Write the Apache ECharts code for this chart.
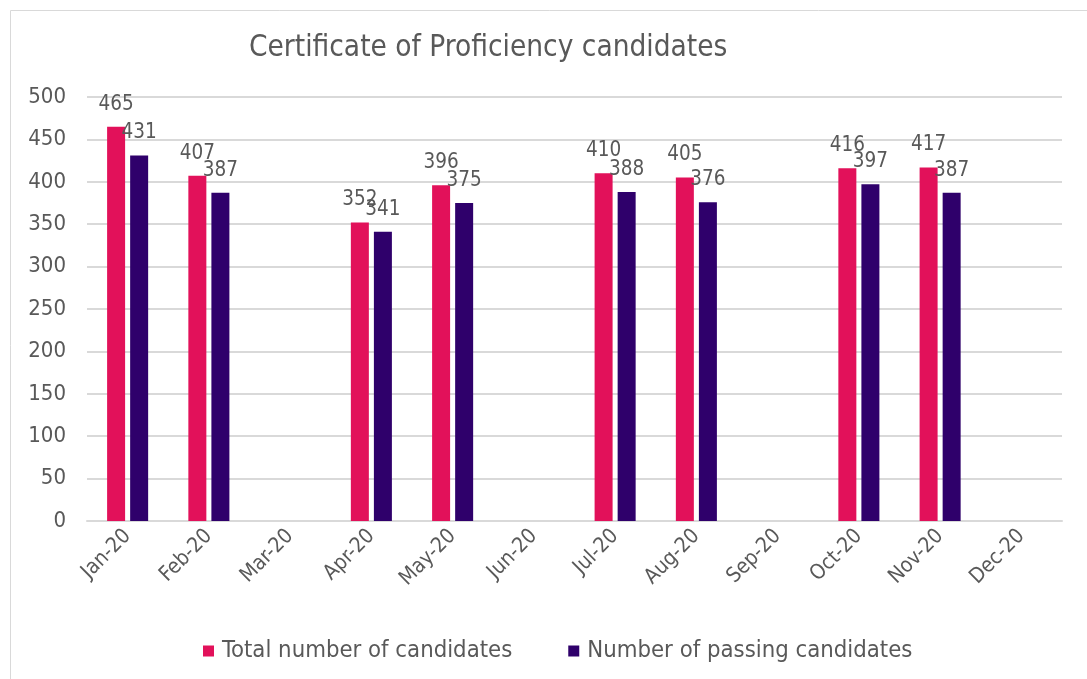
<!DOCTYPE html>
<html>
<head>
<meta charset="utf-8">
<script src="https://cdn.jsdelivr.net/npm/echarts@6/dist/echarts.min.js"></script>
<style>
  html, body { margin: 0; padding: 0; background: #fff; }
  #chart { width: 1087px; height: 679px; }
</style>
</head>
<body>
<div id="chart"></div>
<script>
const months = ['Jan-20', 'Feb-20', 'Mar-20', 'Apr-20', 'May-20', 'Jun-20', 'Jul-20', 'Aug-20', 'Sep-20', 'Oct-20', 'Nov-20', 'Dec-20']
const totalCandidates = [465, 407, null, 352, 396, null, 410, 405, null, 416, 417, null]
const passingCandidates = [431, 387, null, 341, 375, null, 388, 376, null, 397, 387, null]
const seriesNames = ['Total number of candidates', 'Number of passing candidates']

const font = '"DejaVu Sans Condensed", sans-serif'
const textColor = '#595959'

const chart = echarts.init(document.getElementById('chart'))

const option = {
    animation: false,
    color: ['#e2115a', '#2f006b'],
    textStyle: { fontFamily: font },
    title: {
        text: 'Certificate of Proficiency candidates',
        left: 244,
        top: 28,
        textStyle: { fontFamily: font, fontSize: 29.5, fontWeight: 'normal', color: textColor }
    },
    graphic: [{
        type: 'rect',
        shape: { x: 10.5, y: 10.5, width: 1100, height: 700 },
        style: { fill: 'none', stroke: '#d9d9d9', lineWidth: 1 },
        silent: true
    }],
    legend: {
        left: 198,
        top: 634,
        itemWidth: 11,
        itemHeight: 11,
        itemGap: 56,
        icon: 'rect',
        textStyle: { fontFamily: font, fontSize: 23.7, color: textColor, padding: [0, 0, 0, 3] },
        data: seriesNames
    },
    grid: {
        left: 87,
        right: 25,
        top: 97,
        bottom: 158,
        containLabel: false
    },
    xAxis: {
        type: 'category',
        data: months,
        axisLine: { lineStyle: { color: '#d9d9d9', width: 2 } },
        axisTick: { length: 8, lineStyle: { color: '#d9d9d9', width: 2 } },
        axisLabel: {
            rotate: 45,
            margin: 12,
            fontFamily: font,
            fontSize: 21,
            color: textColor
        }
    },
    yAxis: {
        type: 'value',
        min: 0,
        max: 500,
        interval: 50,
        axisLine: { show: false },
        axisTick: { show: false },
        splitLine: { lineStyle: { color: '#d9d9d9', width: 2 } },
        axisLabel: {
            margin: 21,
            fontFamily: font,
            fontSize: 22,
            color: textColor
        }
    },
    series: [
        {
            name: seriesNames[0],
            type: 'bar',
            data: totalCandidates,
            barWidth: 18,
            barGap: '28%',
            label: {
                show: true,
                position: 'top',
                distance: 12,
                fontFamily: font,
                fontSize: 20.5,
                color: textColor
            }
        },
        {
            name: seriesNames[1],
            type: 'bar',
            data: passingCandidates,
            barWidth: 18,
            label: {
                show: true,
                position: 'top',
                distance: 12,
                fontFamily: font,
                fontSize: 20.5,
                color: textColor
            }
        }
    ]
}

chart.setOption(option)
</script>
</body>
</html>
